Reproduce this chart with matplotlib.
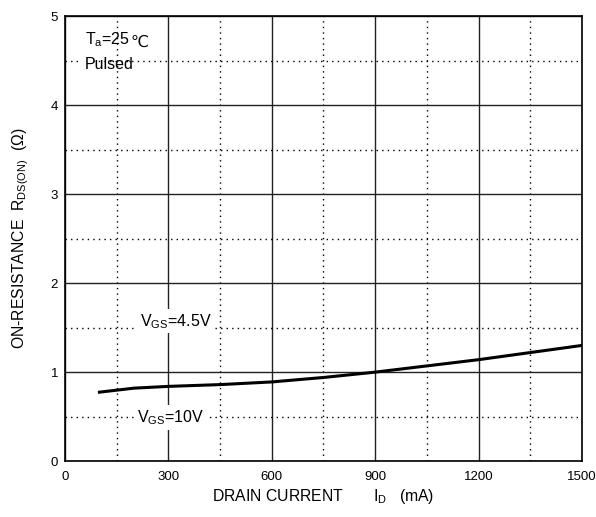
'''On-resistance vs drain current.'''

import matplotlib
matplotlib.use('Agg')
import matplotlib.pyplot as plt
from matplotlib.ticker import MultipleLocator

# curve
drain_current = [100, 200, 300, 450, 600, 750, 900, 1050, 1200, 1350, 1500]
on_resistance = [0.775, 0.82, 0.84, 0.86, 0.89, 0.94, 1.0, 1.07, 1.14, 1.22, 1.30]

x_ticks = [0, 300, 600, 900, 1200, 1500]
y_ticks = [0, 1, 2, 3, 4, 5]

plt.rcParams['font.family'] = ['Liberation Sans', 'DejaVu Sans']
plt.rcParams['mathtext.default'] = 'regular'

fig = plt.figure(figsize=(5.96, 5.17), dpi=100)
ax = fig.add_axes([0.109, 0.108, 0.8675, 0.861])

# grid: solid major, dotted minor
ax.set_xlim(0, 1500)
ax.set_ylim(0, 5)
ax.set_xticks(x_ticks)
ax.set_yticks(y_ticks)
ax.xaxis.set_minor_locator(MultipleLocator(150))
ax.yaxis.set_minor_locator(MultipleLocator(0.5))
ax.grid(which='major', color='#222222', linewidth=1.0, linestyle='-')
ax.grid(which='minor', color='black', linewidth=1.0, linestyle=(0, (1, 3)))
ax.set_axisbelow(True)
ax.tick_params(which='both', length=0, labelsize=9.5)
ax.tick_params(axis='x', pad=7)
ax.tick_params(axis='y', pad=5)
for s in ax.spines.values():
    s.set_linewidth(1.2)

ax.plot(drain_current, on_resistance, color='black', linewidth=2.2, zorder=3)

# annotations
box = dict(facecolor='white', edgecolor='none', pad=2)
fs = 11.5
ax.text(58, 4.59, ' \n ', fontsize=fs, ha='left', va='center',
        bbox=dict(facecolor='white', edgecolor='none', pad=3), color='white')
t = ax.text(58, 4.73, 'T$_{a}$=25', fontsize=fs, ha='left', va='center')
ax.annotate('\u2103', xy=(1, 0), xycoords=t, xytext=(0.5, -0.5),
            textcoords='offset points', va='bottom', ha='left',
            fontsize=fs, family='DejaVu Sans')
ax.text(58, 4.45, 'Pulsed', fontsize=fs, ha='left', va='center')
ax.text(218, 1.57, 'V$_{GS}$=4.5V', fontsize=fs, ha='left', va='center', bbox=box)
ax.text(209, 0.49, 'V$_{GS}$=10V', fontsize=fs, ha='left', va='center', bbox=box)

ax.set_xlabel('DRAIN CURRENT       I$_{D}$   (mA)', fontsize=11.3, labelpad=3)
ax.set_ylabel('ON-RESISTANCE  R$_{DS(ON)}$  (\u03a9)', fontsize=11.3, labelpad=14)

fig.savefig('out.png', dpi=100)
